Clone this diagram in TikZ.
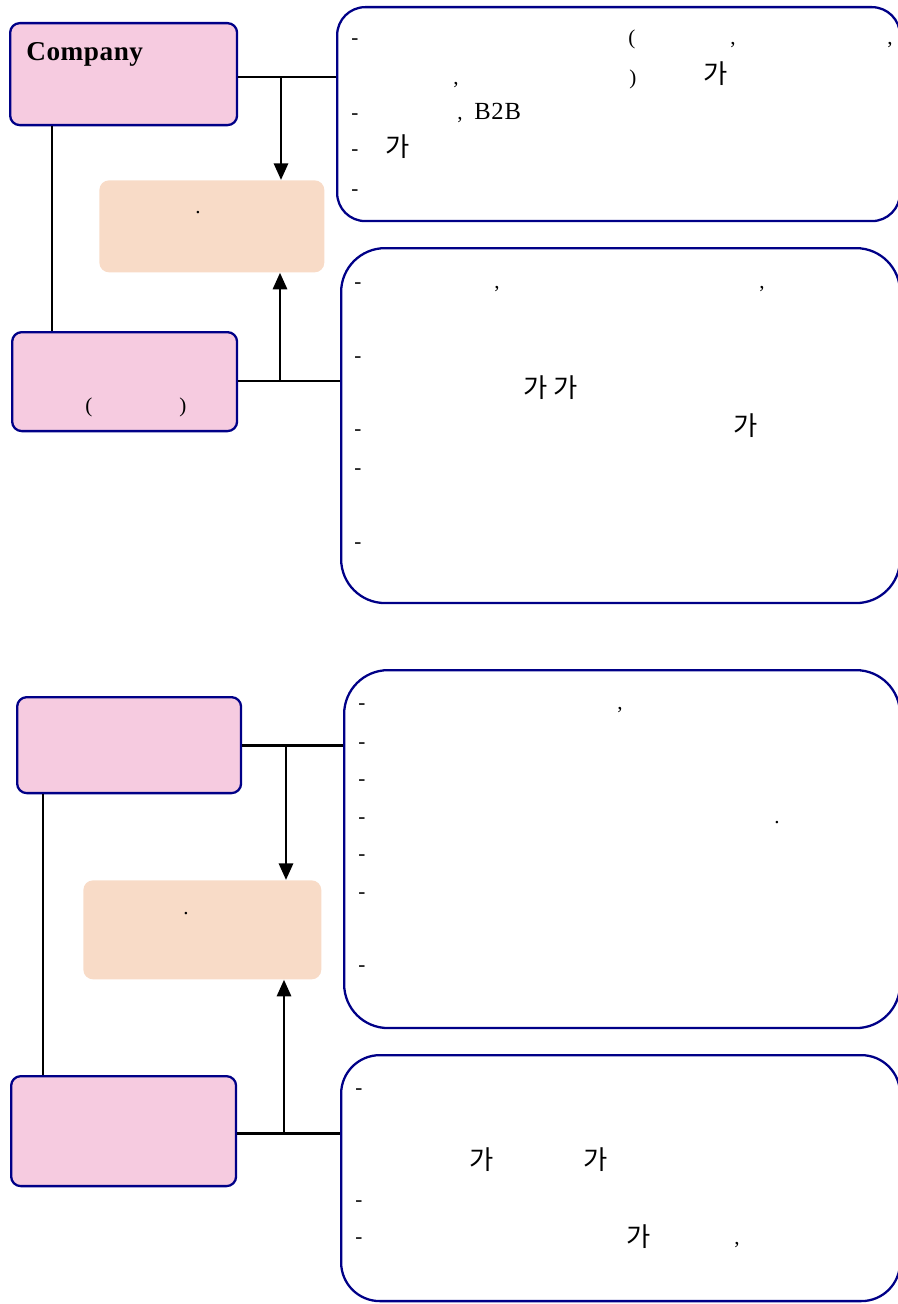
\documentclass[tikz,border=0pt]{standalone}
\usepackage{fontspec}
\setmainfont{Liberation Serif}
\newfontfamily\kr{Noto Sans CJK KR}
\usetikzlibrary{arrows.meta}
\definecolor{navy}{rgb}{0,0,.53}
\definecolor{pinkfill}{rgb}{.965,.796,.878}
\definecolor{peach}{rgb}{.973,.859,.78}

\begin{document}
\begin{tikzpicture}[x=0.02cm, y=-0.02cm,
	firm/.style={draw=navy, fill=pinkfill, line width=1.3pt, rounded corners=5.5pt, anchor=north west, inner sep=0pt},
	result/.style={fill=peach, rounded corners=5.5pt, anchor=north west, inner sep=0pt},
	note/.style={draw=navy, line width=1.3pt, anchor=north west, inner sep=0pt},
	link/.style={line width=1.7pt},
	flow/.style={link, -{Triangle[length=9.5pt,width=8pt]}},
	frag/.style={anchor=base, inner sep=0pt, font=\fontsize{12}{14}\selectfont},
	ga/.style={anchor=base, inner sep=0pt, font=\kr\fontsize{15}{17}\selectfont}]

	\useasboundingbox (0,0) rectangle (898,1304);

	% upper half
	\node[firm, minimum width=4.54cm, minimum height=2.04cm] (comp) at (9,22) {};
	\node[firm, minimum width=4.5cm, minimum height=1.98cm] (firm2) at (11,331) {};
	\node[result, minimum width=4.5cm, minimum height=1.84cm] (res1) at (99,180) {};
	\node[note, rounded corners=16pt, minimum width=11.26cm, minimum height=4.28cm] (info1) at (336,6) {};
	\node[note, rounded corners=25pt, minimum width=11.18cm, minimum height=7.1cm] (info2) at (340,247) {};

	\node[anchor=base west, inner sep=0pt, font=\bfseries\fontsize{15.5}{18}\selectfont\addfontfeature{LetterSpace=2}] (compname) at (26,61) {Company};
	\node[frag] (lp2) at (89,412) {(};
	\node[frag] (rp2) at (183,412) {)};
	\node[frag] (dot1) at (198,214) {.};

	\coordinate (j1) at (281,77);
	\coordinate (j2) at (280,381);
	\coordinate (v1) at (52,0);
	\draw[link] (comp.east |- j1) -- (info1.west |- j1);
	\draw[flow] (j1) -- (res1.north -| j1);
	\draw[link] (firm2.east |- j2) -- (info2.west |- j2);
	\draw[flow] (j2) -- (res1.south -| j2);
	\draw[link] (comp.south -| v1) -- (firm2.north -| v1);

	\foreach \x/\y/\s [count=\i] in {355/45/-, 632/45/(, 733/45/{,}, 890/45/{,}, 456/85/{,}, 633/85/),
		355/120/-, 460/120/{,}, 355/156/-, 355/195/-}
		\node[frag] (a\i) at (\x,\y) {\s};
	\node[frag, anchor=base west, font=\fontsize{14}{16}\selectfont\addfontfeature{LetterSpace=3}] (b2b) at (474,120) {B2B};
	\foreach \x/\y [count=\i] in {716/84, 398/157}
		\node[ga] (ga\i) at (\x,\y) {가};

	\foreach \x/\y/\s [count=\i] in {358/288/-, 497/288/{,}, 762/288/{,}, 358/362/-, 358/435/-,
		358/474/-, 358/548/-}
		\node[frag] (b\i) at (\x,\y) {\s};
	\node[ga] (gb1) at (551,397) {가 가};
	\node[ga] (gb2) at (746,435) {가};

	% lower half
	\node[firm, minimum width=4.48cm, minimum height=1.92cm] (firm3) at (16,696) {};
	\node[firm, minimum width=4.5cm, minimum height=2.2cm] (firm4) at (10,1075) {};
	\node[result, minimum width=4.76cm, minimum height=1.98cm] (res2) at (83,880) {};
	\node[note, rounded corners=25pt, minimum width=11.12cm, minimum height=7.16cm] (info3) at (343,669) {};
	\node[note, rounded corners=22pt, minimum width=11.18cm, minimum height=4.92cm] (info4) at (340,1054) {};

	\node[frag] (dot2) at (186,914) {.};

	\coordinate (j3) at (286,745);
	\coordinate (j4) at (284,1133);
	\coordinate (v2) at (43,0);
	\draw[link] (firm3.east |- j3) -- (info3.west |- j3);
	\draw[flow] (j3) -- (res2.north -| j3);
	\draw[link] (firm4.east |- j4) -- (info4.west |- j4);
	\draw[flow] (j4) -- (res2.south -| j4);
	\draw[link] (firm3.south -| v2) -- (firm4.north -| v2);

	\foreach \y [count=\i] in {709, 748, 785, 823, 860, 898, 971}
		\node[frag] (c\i) at (362,\y) {-};
	\node[frag] (c8) at (620,709) {,};
	\node[frag] (c9) at (777,823) {.};

	\foreach \x/\y/\s [count=\i] in {359/1094/-, 359/1206/-, 359/1243/-, 737/1244/{,}}
		\node[frag] (d\i) at (\x,\y) {\s};
	\foreach \x/\y [count=\i] in {482/1169, 596/1169, 639/1246}
		\node[ga] (gd\i) at (\x,\y) {가};

\end{tikzpicture}
\end{document}
